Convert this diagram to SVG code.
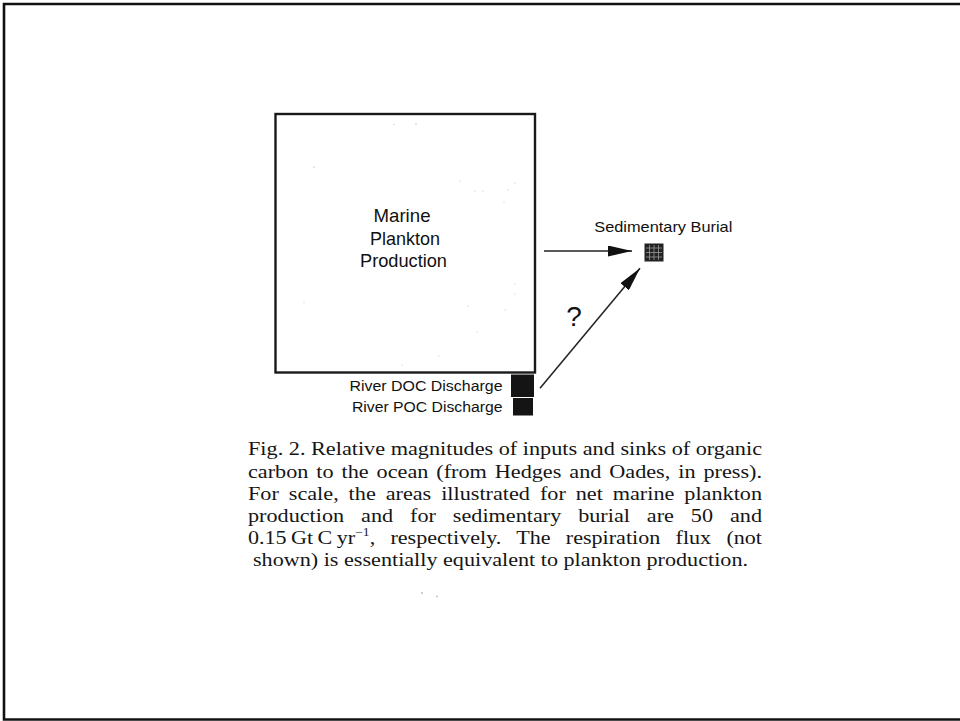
<svg xmlns="http://www.w3.org/2000/svg" width="960" height="721" viewBox="0 0 960 721">
<style>
.lbl{font-family:"Liberation Sans",Arial,sans-serif;fill:#111}
.cap{font-family:"Liberation Serif","Times New Roman",serif;font-size:19.5px;fill:#151515}
.conn{stroke:#222;stroke-width:1.5;fill:none}
.blk{fill:#141414}
.speck{fill:#bdbdbd}
</style>
<defs>
<marker id="ah" markerUnits="userSpaceOnUse" markerWidth="24" markerHeight="11" refX="24" refY="5.5" orient="auto" viewBox="0 0 24 11">
<path d="M0,0 L24,5.5 L0,11 z" fill="#111"/>
</marker>
</defs>
<rect width="960" height="721" fill="#fff"/>
<path d="M960,4 H4 V719.5 H960" fill="none" stroke="#111" stroke-width="2.6"/>

<g id="marine-plankton-production">
<rect x="275.5" y="114" width="259.5" height="258.5" fill="#fff" stroke="#1a1a1a" stroke-width="2.4"/>
<text class="lbl" font-size="19" text-anchor="middle"><tspan x="402" y="222" textLength="57" lengthAdjust="spacingAndGlyphs">Marine</tspan><tspan x="405" y="244.5" textLength="70" lengthAdjust="spacingAndGlyphs">Plankton</tspan><tspan x="403.5" y="267" textLength="87" lengthAdjust="spacingAndGlyphs">Production</tspan></text>
</g>

<g id="river-doc">
<rect class="blk" x="511" y="374.5" width="23" height="22.5"/>
<text class="lbl" font-size="14" x="349.5" y="390.7" textLength="153" lengthAdjust="spacingAndGlyphs">River DOC Discharge</text>
</g>

<g id="river-poc">
<rect class="blk" x="513" y="398" width="20" height="17.5"/>
<text class="lbl" font-size="14" x="352" y="412.3" textLength="150.5" lengthAdjust="spacingAndGlyphs">River POC Discharge</text>
</g>

<g id="sedimentary-burial">
<rect x="644.5" y="243.5" width="19" height="18" fill="#222"/>
<g stroke="#9a9a9a" stroke-width="0.8">
<line x1="649.5" y1="245" x2="649.5" y2="260"/>
<line x1="654" y1="245" x2="654" y2="260"/>
<line x1="658.5" y1="245" x2="658.5" y2="260"/>
<line x1="646" y1="248" x2="662" y2="248"/>
<line x1="646" y1="252.5" x2="662" y2="252.5"/>
<line x1="646" y1="257" x2="662" y2="257"/>
</g>
<text class="lbl" font-size="15" x="594.3" y="232" textLength="138" lengthAdjust="spacingAndGlyphs">Sedimentary Burial</text>
</g>

<g id="connectors">
<line class="conn" x1="544" y1="251" x2="632" y2="251" marker-end="url(#ah)"/>
<line class="conn" x1="540" y1="388.3" x2="640" y2="268.3" marker-end="url(#ah)"/>
<text class="lbl" font-size="28" x="574" y="326" text-anchor="middle">?</text>
</g>

<g id="caption">
<text class="cap" x="248" y="455" textLength="514" lengthAdjust="spacingAndGlyphs">Fig. 2. Relative magnitudes of inputs and sinks of organic</text>
<text class="cap" x="248" y="477.5" textLength="514" lengthAdjust="spacingAndGlyphs" word-spacing="2.1">carbon to the ocean (from Hedges and Oades, in press).</text>
<text class="cap" x="248" y="499.5" textLength="514" lengthAdjust="spacingAndGlyphs" word-spacing="3.85">For scale, the areas illustrated for net marine plankton</text>
<text class="cap" x="248" y="521.5" textLength="514" lengthAdjust="spacingAndGlyphs" word-spacing="10">production and for sedimentary burial are 50 and</text>
<text class="cap" x="248" y="543.5" textLength="514" lengthAdjust="spacingAndGlyphs" word-spacing="8.6">0.15&#x2009;Gt&#x2009;C&#x2009;yr<tspan font-size="12" dy="-7.5">−1</tspan><tspan dy="7.5">, respectively. The respiration flux (not</tspan></text>
<text class="cap" x="253" y="565.5" textLength="495" lengthAdjust="spacingAndGlyphs">shown) is essentially equivalent to plankton production.</text>
</g>

<g id="specks">
<circle class="speck" cx="422" cy="593" r="1"/>
<circle class="speck" cx="437" cy="596.5" r="0.9"/>
<circle class="speck" cx="314" cy="167" r="0.7"/>
<circle class="speck" cx="394" cy="124.5" r="0.6"/>
<circle class="speck" cx="416" cy="124" r="0.7"/>
<circle class="speck" cx="460" cy="181" r="0.6"/>
<circle class="speck" cx="475" cy="191" r="0.6"/>
<circle class="speck" cx="483" cy="191" r="0.6"/>
<circle class="speck" cx="508" cy="190" r="0.6"/>
<circle class="speck" cx="515" cy="183" r="0.6"/>
<circle class="speck" cx="504" cy="202" r="0.6"/>
<circle class="speck" cx="515" cy="284" r="0.6"/>
<circle class="speck" cx="515" cy="294" r="0.6"/>
<circle class="speck" cx="505" cy="310" r="0.6"/>
<circle class="speck" cx="304" cy="302" r="0.6"/>
<circle class="speck" cx="468" cy="306" r="0.6"/>
<circle class="speck" cx="477" cy="332" r="0.6"/>
<circle class="speck" cx="439" cy="356" r="0.6"/>
<circle class="speck" cx="402" cy="365" r="0.6"/>
</g>
</svg>
